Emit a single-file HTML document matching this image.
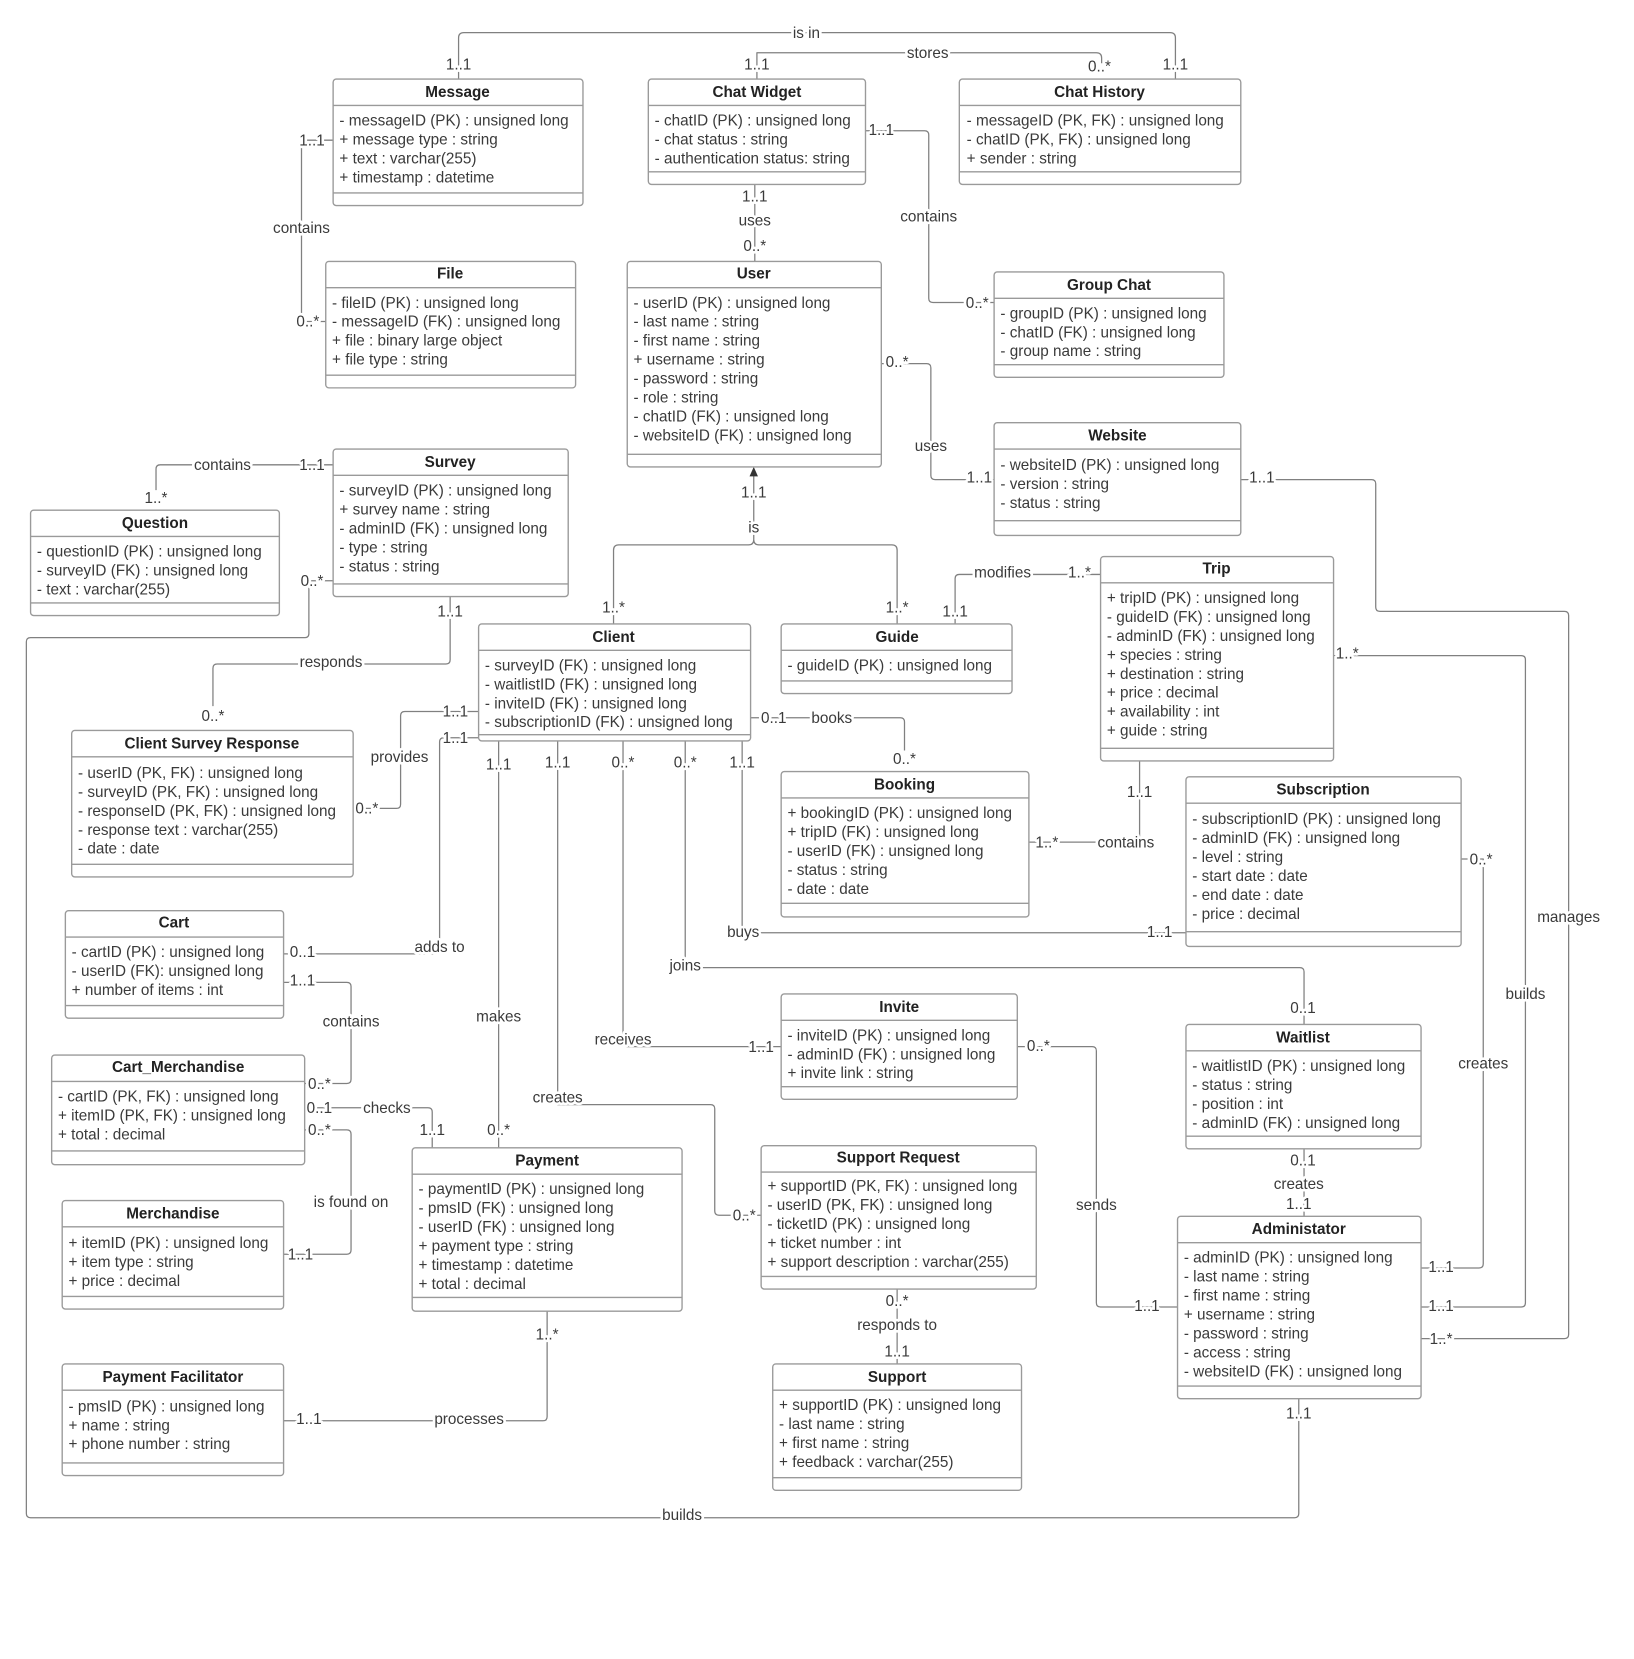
<!DOCTYPE html>
<html><head><meta charset="utf-8"><style>
html,body{margin:0;padding:0;background:#fff;}
svg{display:block}
text{font-family:"Liberation Sans",Arial,sans-serif;font-size:14.5px;fill:#3a3a3a;}
.t{font-weight:bold;text-anchor:middle;fill:#222;}
.l{text-anchor:middle;paint-order:stroke;stroke:#fff;stroke-width:5px;stroke-linejoin:round;}
.b{fill:#fff;stroke:#9a9a9a;stroke-width:1.3;}
.d{stroke:#9a9a9a;stroke-width:1.3;}
.c{fill:none;stroke:#808080;stroke-width:1.2;stroke-linejoin:round;}
</style></head><body>
<svg width="1634" height="1659" viewBox="0 0 1550 1574" preserveAspectRatio="none" xmlns="http://www.w3.org/2000/svg">
<g id="conn">
<path class="c" d="M435 75 V36 Q435 31 440 31 H1110 Q1115 31 1115 36 V75"/>
<path class="c" d="M718 75 V50 H1040 Q1045 50 1045 55 V60"/>
<path class="c" d="M316 133 H286 V305 H309"/>
<path class="c" d="M716 175 V248"/>
<path class="c" d="M821 124 H877 Q881 124 881 128 V283 Q881 287 885 287 H943"/>
<path class="c" d="M836 345 H879 Q883 345 883 349 V451 Q883 455 887 455 H943"/>
<path class="c" d="M1177 455 H1301 Q1305 455 1305 459 V576 Q1305 580 1309 580 H1484 Q1488 580 1488 584 V1266 Q1488 1270 1484 1270 H1348"/>
<path class="c" d="M715 450 V512 Q715 517 710 517 H587 Q582 517 582 522 V592 M715 512 Q715 517 720 517 H846 Q851 517 851 522 V592"/>
<polygon points="715,443 711,452 719,452" fill="#333"/>
<path class="c" d="M316 441 H152 Q148 441 148 445 V465"/>
<path class="c" d="M316 551 H293 V601 Q293 605 289 605 H29 Q25 605 25 609 V1436 Q25 1440 29 1440 H1228 Q1232 1440 1232 1436 V1327"/>
<path class="c" d="M427 566 V626 Q427 630 423 630 H206 Q202 630 202 634 V670"/>
<path class="c" d="M454 675 H384 Q380 675 380 679 V763 Q380 767 376 767 H335"/>
<path class="c" d="M454 700 H421 Q417 700 417 704 V901 Q417 905 413 905 H269"/>
<path class="c" d="M906 592 V549 Q906 545 910 545 H1044"/>
<path class="c" d="M712 681 H854 Q858 681 858 685 V712"/>
<path class="c" d="M976 799 H1077 Q1081 799 1081 795 V722"/>
<path class="c" d="M704 703 V881 Q704 885 708 885 H1125"/>
<path class="c" d="M650 703 V914 Q650 918 654 918 H1233 Q1237 918 1237 922 V972"/>
<path class="c" d="M591 703 V989 Q591 993 595 993 H741"/>
<path class="c" d="M529 703 V1048 H674 Q678 1048 678 1052 V1149 Q678 1153 682 1153 H722"/>
<path class="c" d="M473 703 V1089"/>
<path class="c" d="M269 932 H329 Q333 932 333 936 V1024 Q333 1028 329 1028 H289"/>
<path class="c" d="M289 1051 H406 Q410 1051 410 1055 V1089"/>
<path class="c" d="M289 1072 H329 Q333 1072 333 1076 V1186 Q333 1190 329 1190 H269"/>
<path class="c" d="M519 1244 V1344 Q519 1348 515 1348 H269"/>
<path class="c" d="M965 993 H1036 Q1040 993 1040 997 V1236 Q1040 1240 1044 1240 H1117"/>
<path class="c" d="M851 1223 V1294"/>
<path class="c" d="M1237 1090 V1154"/>
<path class="c" d="M1348 1203 H1403 Q1407 1203 1407 1199 V815 H1386"/>
<path class="c" d="M1348 1240 H1443 Q1447 1240 1447 1236 V626 Q1447 622 1443 622 H1265"/>
</g>
<g id="labels">
<text class="l" x="765" y="36">is in</text>
<text class="l" x="435" y="66">1..1</text><text class="l" x="1115" y="66">1..1</text>
<text class="l" x="880" y="55">stores</text><text class="l" x="718" y="66">1..1</text><text class="l" x="1043" y="68">0..*</text>
<text class="l" x="296" y="138">1..1</text><text class="l" x="286" y="221">contains</text><text class="l" x="292" y="310">0..*</text>
<text class="l" x="716" y="191">1..1</text><text class="l" x="716" y="214">uses</text><text class="l" x="716" y="238">0..*</text>
<text class="l" x="836" y="128">1..1</text><text class="l" x="881" y="210">contains</text><text class="l" x="927" y="292">0..*</text>
<text class="l" x="851" y="348">0..*</text><text class="l" x="883" y="428">uses</text><text class="l" x="929" y="458">1..1</text>
<text class="l" x="1197" y="458">1..1</text><text class="l" x="1488" y="875">manages</text><text class="l" x="1367" y="1275">1..*</text>
<text class="l" x="715" y="472">1..1</text><text class="l" x="715" y="505">is</text><text class="l" x="582" y="581">1..*</text><text class="l" x="851" y="581">1..*</text>
<text class="l" x="296" y="446">1..1</text><text class="l" x="211" y="446">contains</text><text class="l" x="148" y="477">1..*</text>
<text class="l" x="296" y="556">0..*</text><text class="l" x="647" y="1442">builds</text><text class="l" x="1232" y="1346">1..1</text>
<text class="l" x="427" y="585">1..1</text><text class="l" x="314" y="633">responds</text><text class="l" x="202" y="684">0..*</text>
<text class="l" x="432" y="680">1..1</text><text class="l" x="379" y="723">provides</text><text class="l" x="348" y="772">0..*</text>
<text class="l" x="432" y="705">1..1</text><text class="l" x="417" y="903">adds to</text><text class="l" x="287" y="908">0..1</text>
<text class="l" x="906" y="585">1..1</text><text class="l" x="951" y="548">modifies</text><text class="l" x="1024" y="548">1..*</text>
<text class="l" x="734" y="686">0..1</text><text class="l" x="789" y="686">books</text><text class="l" x="858" y="725">0..*</text>
<text class="l" x="993" y="804">1..*</text><text class="l" x="1068" y="804">contains</text><text class="l" x="1081" y="756">1..1</text>
<text class="l" x="704" y="728">1..1</text><text class="l" x="705" y="889">buys</text><text class="l" x="1100" y="889">1..1</text>
<text class="l" x="650" y="728">0..*</text><text class="l" x="650" y="921">joins</text><text class="l" x="1236" y="961">0..1</text>
<text class="l" x="591" y="728">0..*</text><text class="l" x="591" y="991">receives</text><text class="l" x="722" y="998">1..1</text>
<text class="l" x="529" y="728">1..1</text><text class="l" x="529" y="1046">creates</text><text class="l" x="706" y="1158">0..*</text>
<text class="l" x="473" y="730">1..1</text><text class="l" x="473" y="969">makes</text><text class="l" x="473" y="1077">0..*</text>
<text class="l" x="287" y="935">1..1</text><text class="l" x="333" y="974">contains</text><text class="l" x="303" y="1033">0..*</text>
<text class="l" x="303" y="1056">0..1</text><text class="l" x="367" y="1056">checks</text><text class="l" x="410" y="1077">1..1</text>
<text class="l" x="303" y="1077">0..*</text><text class="l" x="333" y="1145">is found on</text><text class="l" x="285" y="1195">1..1</text>
<text class="l" x="519" y="1271">1..*</text><text class="l" x="445" y="1351">processes</text><text class="l" x="293" y="1351">1..1</text>
<text class="l" x="985" y="997">0..*</text><text class="l" x="1040" y="1148">sends</text><text class="l" x="1088" y="1244">1..1</text>
<text class="l" x="851" y="1239">0..*</text><text class="l" x="851" y="1262">responds to</text><text class="l" x="851" y="1287">1..1</text>
<text class="l" x="1236" y="1106">0..1</text><text class="l" x="1232" y="1128">creates</text><text class="l" x="1232" y="1147">1..1</text>
<text class="l" x="1367" y="1207">1..1</text><text class="l" x="1407" y="1014">creates</text><text class="l" x="1405" y="820">0..*</text>
<text class="l" x="1367" y="1244">1..1</text><text class="l" x="1447" y="948">builds</text><text class="l" x="1278" y="625">1..*</text>
</g>
<g id="boxes">
<!-- Message -->
<rect class="b" x="316" y="75" width="237" height="120" rx="3"/><line class="d" x1="316" y1="100" x2="553" y2="100"/><line class="d" x1="316" y1="183" x2="553" y2="183"/>
<text class="t" x="434" y="92">Message</text>
<text x="322" y="119">- messageID (PK) : unsigned long</text><text x="322" y="137">+ message type : string</text><text x="322" y="155">+ text : varchar(255)</text><text x="322" y="173">+ timestamp : datetime</text>
<!-- Chat Widget -->
<rect class="b" x="615" y="75" width="206" height="100" rx="3"/><line class="d" x1="615" y1="100" x2="821" y2="100"/><line class="d" x1="615" y1="163" x2="821" y2="163"/>
<text class="t" x="718" y="92">Chat Widget</text>
<text x="621" y="119">- chatID (PK) : unsigned long</text><text x="621" y="137">- chat status : string</text><text x="621" y="155">- authentication status: string</text>
<!-- Chat History -->
<rect class="b" x="910" y="75" width="267" height="100" rx="3"/><line class="d" x1="910" y1="100" x2="1177" y2="100"/><line class="d" x1="910" y1="163" x2="1177" y2="163"/>
<text class="t" x="1043" y="92">Chat History</text>
<text x="917" y="119">- messageID (PK, FK) : unsigned long</text><text x="917" y="137">- chatID (PK, FK) : unsigned long</text><text x="917" y="155">+ sender : string</text>
<!-- File -->
<rect class="b" x="309" y="248" width="237" height="120" rx="3"/><line class="d" x1="309" y1="273" x2="546" y2="273"/><line class="d" x1="309" y1="356" x2="546" y2="356"/>
<text class="t" x="427" y="264">File</text>
<text x="315" y="292">- fileID (PK) : unsigned long</text><text x="315" y="310">- messageID (FK) : unsigned long</text><text x="315" y="328">+ file : binary large object</text><text x="315" y="346">+ file type : string</text>
<!-- User -->
<rect class="b" x="595" y="248" width="241" height="195" rx="3"/><line class="d" x1="595" y1="273" x2="836" y2="273"/><line class="d" x1="595" y1="431" x2="836" y2="431"/>
<text class="t" x="715" y="264">User</text>
<text x="601" y="292">- userID (PK) : unsigned long</text><text x="601" y="310">- last name : string</text><text x="601" y="328">- first name : string</text><text x="601" y="346">+ username : string</text><text x="601" y="364">- password : string</text><text x="601" y="382">- role : string</text><text x="601" y="400">- chatID (FK) : unsigned long</text><text x="601" y="418">- websiteID (FK) : unsigned long</text>
<!-- Group Chat -->
<rect class="b" x="943" y="258" width="218" height="100" rx="3"/><line class="d" x1="943" y1="283" x2="1161" y2="283"/><line class="d" x1="943" y1="346" x2="1161" y2="346"/>
<text class="t" x="1052" y="275">Group Chat</text>
<text x="949" y="302">- groupID (PK) : unsigned long</text><text x="949" y="320">- chatID (FK) : unsigned long</text><text x="949" y="338">- group name : string</text>
<!-- Website -->
<rect class="b" x="943" y="401" width="234" height="107" rx="3"/><line class="d" x1="943" y1="426" x2="1177" y2="426"/><line class="d" x1="943" y1="494" x2="1177" y2="494"/>
<text class="t" x="1060" y="418">Website</text>
<text x="949" y="446">- websiteID (PK) : unsigned long</text><text x="949" y="464">- version : string</text><text x="949" y="482">- status : string</text>
<!-- Survey -->
<rect class="b" x="316" y="426" width="223" height="140" rx="3"/><line class="d" x1="316" y1="451" x2="539" y2="451"/><line class="d" x1="316" y1="554" x2="539" y2="554"/>
<text class="t" x="427" y="443">Survey</text>
<text x="322" y="470">- surveyID (PK) : unsigned long</text><text x="322" y="488">+ survey name : string</text><text x="322" y="506">- adminID (FK) : unsigned long</text><text x="322" y="524">- type : string</text><text x="322" y="542">- status : string</text>
<!-- Question -->
<rect class="b" x="29" y="484" width="236" height="100" rx="3"/><line class="d" x1="29" y1="509" x2="265" y2="509"/><line class="d" x1="29" y1="572" x2="265" y2="572"/>
<text class="t" x="147" y="501">Question</text>
<text x="35" y="528">- questionID (PK) : unsigned long</text><text x="35" y="546">- surveyID (FK) : unsigned long</text><text x="35" y="564">- text : varchar(255)</text>
<!-- Trip -->
<rect class="b" x="1044" y="528" width="221" height="194" rx="3"/><line class="d" x1="1044" y1="553" x2="1265" y2="553"/><line class="d" x1="1044" y1="710" x2="1265" y2="710"/>
<text class="t" x="1154" y="544">Trip</text>
<text x="1050" y="572">+ tripID (PK) : unsigned long</text><text x="1050" y="590">- guideID (FK) : unsigned long</text><text x="1050" y="608">- adminID (FK) : unsigned long</text><text x="1050" y="626">+ species : string</text><text x="1050" y="644">+ destination : string</text><text x="1050" y="662">+ price : decimal</text><text x="1050" y="680">+ availability : int</text><text x="1050" y="698">+ guide : string</text>
<!-- Client -->
<rect class="b" x="454" y="592" width="258" height="111" rx="3"/><line class="d" x1="454" y1="617" x2="712" y2="617"/><line class="d" x1="454" y1="697" x2="712" y2="697"/>
<text class="t" x="582" y="609">Client</text>
<text x="460" y="636">- surveyID (FK) : unsigned long</text><text x="460" y="654">- waitlistID (FK) : unsigned long</text><text x="460" y="672">- inviteID (FK) : unsigned long</text><text x="460" y="690">- subscriptionID (FK) : unsigned long</text>
<!-- Guide -->
<rect class="b" x="741" y="592" width="219" height="66" rx="3"/><line class="d" x1="741" y1="617" x2="960" y2="617"/><line class="d" x1="741" y1="646" x2="960" y2="646"/>
<text class="t" x="851" y="609">Guide</text>
<text x="747" y="636">- guideID (PK) : unsigned long</text>
<!-- CSR -->
<rect class="b" x="68" y="693" width="267" height="139" rx="3"/><line class="d" x1="68" y1="718" x2="335" y2="718"/><line class="d" x1="68" y1="820" x2="335" y2="820"/>
<text class="t" x="201" y="710">Client Survey Response</text>
<text x="74" y="738">- userID (PK, FK) : unsigned long</text><text x="74" y="756">- surveyID (PK, FK) : unsigned long</text><text x="74" y="774">- responseID (PK, FK) : unsigned long</text><text x="74" y="792">- response text : varchar(255)</text><text x="74" y="810">- date : date</text>
<!-- Booking -->
<rect class="b" x="741" y="732" width="235" height="138" rx="3"/><line class="d" x1="741" y1="757" x2="976" y2="757"/><line class="d" x1="741" y1="857" x2="976" y2="857"/>
<text class="t" x="858" y="749">Booking</text>
<text x="747" y="776">+ bookingID (PK) : unsigned long</text><text x="747" y="794">+ tripID (FK) : unsigned long</text><text x="747" y="812">- userID (FK) : unsigned long</text><text x="747" y="830">- status : string</text><text x="747" y="848">- date : date</text>
<!-- Subscription -->
<rect class="b" x="1125" y="737" width="261" height="161" rx="3"/><line class="d" x1="1125" y1="762" x2="1386" y2="762"/><line class="d" x1="1125" y1="884" x2="1386" y2="884"/>
<text class="t" x="1255" y="754">Subscription</text>
<text x="1131" y="782">- subscriptionID (PK) : unsigned long</text><text x="1131" y="800">- adminID (FK) : unsigned long</text><text x="1131" y="818">- level : string</text><text x="1131" y="836">- start date : date</text><text x="1131" y="854">- end date : date</text><text x="1131" y="872">- price : decimal</text>
<!-- Cart -->
<rect class="b" x="62" y="864" width="207" height="102" rx="3"/><line class="d" x1="62" y1="889" x2="269" y2="889"/><line class="d" x1="62" y1="954" x2="269" y2="954"/>
<text class="t" x="165" y="880">Cart</text>
<text x="68" y="908">- cartID (PK) : unsigned long</text><text x="68" y="926">- userID (FK): unsigned long</text><text x="68" y="944">+ number of items : int</text>
<!-- Invite -->
<rect class="b" x="741" y="943" width="224" height="100" rx="3"/><line class="d" x1="741" y1="968" x2="965" y2="968"/><line class="d" x1="741" y1="1031" x2="965" y2="1031"/>
<text class="t" x="853" y="960">Invite</text>
<text x="747" y="987">- inviteID (PK) : unsigned long</text><text x="747" y="1005">- adminID (FK) : unsigned long</text><text x="747" y="1023">+ invite link : string</text>
<!-- Waitlist -->
<rect class="b" x="1125" y="972" width="223" height="118" rx="3"/><line class="d" x1="1125" y1="997" x2="1348" y2="997"/><line class="d" x1="1125" y1="1078" x2="1348" y2="1078"/>
<text class="t" x="1236" y="989">Waitlist</text>
<text x="1131" y="1016">- waitlistID (PK) : unsigned long</text><text x="1131" y="1034">- status : string</text><text x="1131" y="1052">- position : int</text><text x="1131" y="1070">- adminID (FK) : unsigned long</text>
<!-- Cart_Merchandise -->
<rect class="b" x="49" y="1001" width="240" height="104" rx="3"/><line class="d" x1="49" y1="1026" x2="289" y2="1026"/><line class="d" x1="49" y1="1092" x2="289" y2="1092"/>
<text class="t" x="169" y="1017">Cart_Merchandise</text>
<text x="55" y="1045">- cartID (PK, FK) : unsigned long</text><text x="55" y="1063">+ itemID (PK, FK) : unsigned long</text><text x="55" y="1081">+ total : decimal</text>
<!-- Payment -->
<rect class="b" x="391" y="1089" width="256" height="155" rx="3"/><line class="d" x1="391" y1="1114" x2="647" y2="1114"/><line class="d" x1="391" y1="1231" x2="647" y2="1231"/>
<text class="t" x="519" y="1106">Payment</text>
<text x="397" y="1133">- paymentID (PK) : unsigned long</text><text x="397" y="1151">- pmsID (FK) : unsigned long</text><text x="397" y="1169">- userID (FK) : unsigned long</text><text x="397" y="1187">+ payment type : string</text><text x="397" y="1205">+ timestamp : datetime</text><text x="397" y="1223">+ total : decimal</text>
<!-- Support Request -->
<rect class="b" x="722" y="1087" width="261" height="136" rx="3"/><line class="d" x1="722" y1="1112" x2="983" y2="1112"/><line class="d" x1="722" y1="1211" x2="983" y2="1211"/>
<text class="t" x="852" y="1103">Support Request</text>
<text x="728" y="1130">+ supportID (PK, FK) : unsigned long</text><text x="728" y="1148">- userID (PK, FK) : unsigned long</text><text x="728" y="1166">- ticketID (PK) : unsigned long</text><text x="728" y="1184">+ ticket number : int</text><text x="728" y="1202">+ support description : varchar(255)</text>
<!-- Merchandise -->
<rect class="b" x="59" y="1139" width="210" height="103" rx="3"/><line class="d" x1="59" y1="1164" x2="269" y2="1164"/><line class="d" x1="59" y1="1230" x2="269" y2="1230"/>
<text class="t" x="164" y="1156">Merchandise</text>
<text x="65" y="1184">+ itemID (PK) : unsigned long</text><text x="65" y="1202">+ item type : string</text><text x="65" y="1220">+ price : decimal</text>
<!-- Administator -->
<rect class="b" x="1117" y="1154" width="231" height="173" rx="3"/><line class="d" x1="1117" y1="1179" x2="1348" y2="1179"/><line class="d" x1="1117" y1="1315" x2="1348" y2="1315"/>
<text class="t" x="1232" y="1171">Administator</text>
<text x="1123" y="1198">- adminID (PK) : unsigned long</text><text x="1123" y="1216">- last name : string</text><text x="1123" y="1234">- first name : string</text><text x="1123" y="1252">+ username : string</text><text x="1123" y="1270">- password : string</text><text x="1123" y="1288">- access : string</text><text x="1123" y="1306">- websiteID (FK) : unsigned long</text>
<!-- Payment Facilitator -->
<rect class="b" x="59" y="1294" width="210" height="106" rx="3"/><line class="d" x1="59" y1="1319" x2="269" y2="1319"/><line class="d" x1="59" y1="1388" x2="269" y2="1388"/>
<text class="t" x="164" y="1311">Payment Facilitator</text>
<text x="65" y="1339">- pmsID (PK) : unsigned long</text><text x="65" y="1357">+ name : string</text><text x="65" y="1375">+ phone number : string</text>
<!-- Support -->
<rect class="b" x="733" y="1294" width="236" height="120" rx="3"/><line class="d" x1="733" y1="1319" x2="969" y2="1319"/><line class="d" x1="733" y1="1402" x2="969" y2="1402"/>
<text class="t" x="851" y="1311">Support</text>
<text x="739" y="1338">+ supportID (PK) : unsigned long</text><text x="739" y="1356">- last name : string</text><text x="739" y="1374">+ first name : string</text><text x="739" y="1392">+ feedback : varchar(255)</text>
</g>
</svg>
</body></html>
